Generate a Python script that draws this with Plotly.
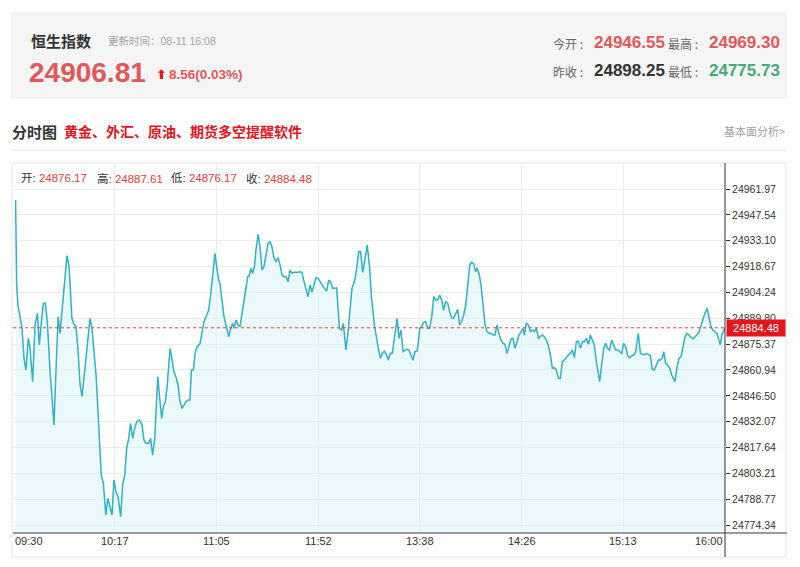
import plotly.graph_objects as go

# ---------------- data ----------------
index_name = "恒生指数"
update_time = "更新时间：08-11 16:08"
last_price = "24906.81"
change_text = "8.56(0.03%)"
today_open = "24946.55"
day_high = "24969.30"
prev_close = "24898.25"
day_low = "24775.73"
ohlc_labels = ["开:", "高:", "低:", "收:"]
ohlc_values = ["24876.17", "24887.61", "24876.17", "24884.48"]

# minute offsets from 09:30 (lunch break removed), and index level
morning_minutes = [
    1.2, 1.7, 2.3, 3.2, 4.2, 5.1, 6.0, 7.1, 7.9, 9.1,
    10.2, 11.3, 12.2, 13.3, 14.1, 15.0, 15.9, 17.2, 18.1, 19.0,
    19.9, 20.9, 21.8, 23.0, 24.1, 25.0, 26.0, 26.9, 27.3, 28.3,
    29.2, 30.1, 31.1, 32.0, 32.9, 33.8, 34.8, 35.7, 36.6, 37.5,
    38.5, 39.4, 40.3, 40.9, 41.9, 43.0, 44.0, 45.0, 45.9, 46.8,
    47.7, 48.7, 49.9, 50.8, 51.8, 52.7, 53.6, 54.5, 55.5, 56.4,
    57.3, 58.6, 59.8, 60.7, 61.6, 62.9, 63.8, 64.7, 65.7, 66.6,
    67.1, 68.0, 68.9, 69.7, 70.6, 71.5, 72.8, 73.7, 74.6, 75.5,
    76.5, 77.4, 78.3, 79.3, 80.2, 81.1, 82.0, 82.7, 83.6, 84.5,
    85.4, 86.7, 87.6, 88.5, 89.5, 90.7, 91.6, 92.7, 93.6, 94.4,
    95.3, 95.9, 96.9, 97.8, 98.7, 100.0, 100.9, 101.8, 102.4, 103.4,
    104.3, 105.2, 105.8, 106.8, 107.7, 108.3, 108.8, 109.5, 110.2, 111.1,
    112.0, 112.6, 113.6, 114.5, 115.4, 116.3, 117.3, 118.2, 119.1, 120.0,
    121.0, 121.9, 122.8, 123.8, 124.7, 125.6, 126.5, 127.5, 128.4, 129.3,
    130.2, 131.2, 132.1, 133.0, 133.9, 134.9, 135.8, 136.7, 137.7, 138.6,
    139.5, 140.4, 141.4, 142.3, 143.2, 144.1, 145.4, 146.3, 147.2, 148.2,
    149.1, 150.0,
]
morning_prices = [
    24955.83, 24908.37, 24897.20, 24889.76, 24884.18, 24867.43, 24860.91, 24878.59, 24873.01, 24854.40,
    24886.04, 24892.55, 24874.87, 24889.76, 24898.13, 24898.13, 24887.90, 24859.98, 24845.10, 24830.21,
    24859.98, 24890.69, 24881.39, 24897.20, 24912.09, 24924.75, 24918.61, 24902.79, 24889.76, 24886.41,
    24885.11, 24873.01, 24852.54, 24846.03, 24857.19, 24865.57, 24878.59, 24889.76, 24884.18, 24873.01,
    24858.12, 24837.65, 24817.18, 24802.29, 24797.64, 24779.96, 24789.27, 24784.61, 24779.96, 24799.50,
    24792.99, 24790.20, 24779.03, 24796.71, 24802.29, 24817.18, 24822.76, 24831.14, 24822.76, 24828.35,
    24832.07, 24833.00, 24830.21, 24821.83, 24819.97, 24819.97, 24822.76, 24813.46, 24822.76, 24845.10,
    24857.19, 24845.10, 24833.93, 24840.44, 24843.23, 24852.54, 24873.01, 24866.50, 24859.98, 24857.19,
    24852.54, 24843.23, 24839.51, 24841.37, 24843.23, 24844.17, 24844.17, 24860.91, 24860.91, 24871.15,
    24873.94, 24875.80, 24881.39, 24887.90, 24890.69, 24894.41, 24902.79, 24913.95, 24926.05, 24918.61,
    24911.16, 24909.30, 24900.00, 24890.69, 24886.04, 24879.52, 24884.18, 24886.97, 24884.18, 24888.83,
    24886.04, 24885.11, 24889.76, 24898.13, 24902.79, 24908.37, 24913.02, 24913.58, 24917.67, 24914.88,
    24919.54, 24927.91, 24936.66, 24929.77, 24916.74, 24918.61, 24926.98, 24931.63, 24932.56, 24929.77,
    24923.26, 24921.40, 24923.63, 24919.54, 24913.95, 24913.02, 24913.02, 24910.23, 24916.74, 24914.88,
    24915.44, 24915.26, 24915.44, 24915.81, 24915.44, 24910.23, 24906.51, 24901.86, 24908.37, 24904.65,
    24908.37, 24912.46, 24912.09, 24910.23, 24908.37, 24906.88, 24905.02, 24911.16, 24910.23, 24906.51,
    24906.51, 24906.88,
]
afternoon_minutes = [
    151.3, 152.2, 153.1, 154.3, 155.3, 156.2, 157.1, 158.4, 159.3, 160.2,
    161.1, 162.1, 163.0, 164.2, 165.3, 166.2, 167.5, 168.4, 169.3, 170.3,
    171.2, 172.1, 173.0, 174.0, 174.9, 175.8, 176.7, 178.0, 178.9, 179.8,
    180.8, 181.7, 182.6, 183.5, 184.5, 185.4, 186.3, 187.3, 187.9, 188.5,
    189.4, 190.3, 191.3, 192.2, 193.1, 194.1, 195.0, 195.9, 196.8, 197.8,
    198.7, 199.6, 200.5, 201.5, 202.4, 203.3, 204.2, 205.2, 206.1, 207.0,
    208.0, 208.9, 209.8, 210.7, 211.7, 212.6, 213.5, 214.4, 215.1, 216.0,
    216.9, 217.8, 218.8, 219.7, 220.6, 221.5, 222.5, 223.4, 224.3, 225.3,
    226.2, 227.1, 228.0, 229.0, 229.9, 230.8, 231.7, 232.7, 233.6, 234.5,
    235.5, 236.4, 237.0, 237.9, 238.9, 239.8, 240.7, 241.6, 242.6, 243.5,
    244.4, 245.3, 246.3, 247.2, 248.1, 249.1, 250.0, 250.9, 251.8, 252.8,
    253.7, 254.6, 255.5, 256.5, 257.4, 258.3, 259.2, 260.2, 261.1, 262.0,
    263.0, 263.9, 264.8, 265.7, 266.7, 267.6, 268.5, 269.4, 270.4, 271.3,
    271.9, 272.8, 273.8, 274.7, 275.6, 276.5, 277.5, 278.4, 279.3, 280.3,
    281.2, 282.1, 283.0, 284.0, 284.9, 285.8, 286.7, 287.7, 288.6, 289.2,
    289.8, 290.8, 291.7, 292.6, 293.5, 294.5, 295.4, 296.3, 297.2, 298.2,
    299.1, 300.0, 301.0, 301.6, 302.5, 303.4, 304.4, 305.3, 306.2, 306.8,
    307.8, 308.7, 309.6, 310.5, 311.5, 312.4, 313.3, 314.2, 315.2, 316.1,
    317.0, 318.0, 318.9, 319.8, 320.7, 321.7, 322.6, 323.5, 324.4, 325.4,
    326.3, 326.9, 327.8, 328.5, 330.0,
]
afternoon_prices = [
    24884.18, 24883.25, 24886.97, 24872.08, 24882.32, 24895.34, 24906.51, 24911.16, 24917.67, 24926.98,
    24926.98, 24915.44, 24921.40, 24930.70, 24917.67, 24900.93, 24886.04, 24878.59, 24873.01, 24867.43,
    24870.22, 24871.52, 24869.66, 24866.50, 24870.22, 24870.22, 24878.59, 24889.76, 24878.59, 24883.25,
    24871.15, 24872.08, 24872.64, 24872.08, 24869.29, 24866.50, 24871.15, 24871.52, 24876.73, 24884.18,
    24885.11, 24887.53, 24887.90, 24884.18, 24884.18, 24890.69, 24901.86, 24900.00, 24900.00, 24902.79,
    24900.00, 24894.41, 24899.06, 24898.13, 24893.48, 24890.13, 24889.76, 24892.55, 24894.78, 24886.04,
    24888.27, 24891.62, 24897.20, 24907.44, 24919.54, 24921.02, 24920.28, 24915.81, 24917.67, 24914.88,
    24908.37, 24898.13, 24886.04, 24882.32, 24881.39, 24881.39, 24880.45, 24880.45, 24886.04, 24880.83,
    24877.66, 24875.80, 24875.24, 24870.22, 24874.87, 24878.22, 24878.59, 24873.01, 24876.73, 24880.45,
    24882.32, 24884.18, 24880.45, 24886.97, 24886.04, 24882.32, 24883.25, 24882.32, 24884.18, 24878.59,
    24879.52, 24880.45, 24879.52, 24877.66, 24874.87, 24869.29, 24861.84, 24862.22, 24860.91, 24856.26,
    24856.26, 24865.57, 24866.50, 24868.36, 24869.29, 24870.22, 24872.08, 24867.80, 24876.73, 24877.11,
    24873.01, 24876.73, 24876.73, 24878.59, 24875.24, 24880.45, 24877.66, 24874.87, 24865.57, 24859.98,
    24854.40, 24863.71, 24873.01, 24875.80, 24873.01, 24872.08, 24877.66, 24874.87, 24872.08, 24872.08,
    24871.15, 24870.22, 24875.80, 24873.94, 24868.92, 24867.80, 24868.92, 24869.29, 24871.15, 24876.73,
    24881.39, 24870.22, 24869.66, 24869.29, 24870.22, 24869.66, 24868.92, 24861.29, 24860.91, 24863.71,
    24866.50, 24866.50, 24867.80, 24871.15, 24864.64, 24863.71, 24861.84, 24858.12, 24855.33, 24854.40,
    24862.78, 24867.43, 24868.36, 24873.01, 24879.52, 24881.39, 24880.45, 24878.97, 24878.22, 24879.52,
    24880.45, 24882.32, 24886.04, 24889.76, 24892.55, 24895.34, 24890.69, 24885.11, 24883.25, 24882.32,
    24881.39, 24878.59, 24874.87, 24880.45, 24884.48,
]
assert len(morning_minutes) == len(morning_prices)
assert len(afternoon_minutes) == len(afternoon_prices)

x_tick_minutes = [0, 47.1, 94.3, 141.4, 188.6, 235.7, 282.9, 330]
x_tick_labels = ["09:30", "10:17", "11:05", "11:52", "13:38", "14:26", "15:13", "16:00"]
y_tick_values = [24961.97, 24947.54, 24933.10, 24918.67, 24904.24, 24889.80, 24875.37,
                 24860.94, 24846.50, 24832.07, 24817.64, 24803.21, 24788.77, 24774.34]
y_range = [24769.9, 24976.5]
x_range = [0, 330]

minutes = morning_minutes + afternoon_minutes
prices = morning_prices + afternoon_prices
current = prices[-1]

# ---------------- styling ----------------
W, H = 800, 567
def px(x):
    return x / W
def py(y):
    return 1 - y / H

RED = "#e2575a"
GREEN = "#45a97c"
CJK = "Noto Sans CJK SC"
NUM = "Liberation Sans, Noto Sans CJK SC"
LINE = "#2cb3c6"
GRID = "#ececec"

fig = go.Figure()
fig.add_trace(go.Scatter(
    x=minutes, y=prices, mode="lines",
    line=dict(color=LINE, width=1.5),
    fill="tozeroy", fillcolor="rgba(222,244,250,0.6)",
    hoverinfo="skip", showlegend=False,
))

shapes = [
    dict(type="rect", xref="paper", yref="paper", x0=px(12), x1=px(786), y0=py(98), y1=py(13),
         fillcolor="#f5f5f5", line=dict(color="#eaeaea", width=1), layer="below"),
    dict(type="line", xref="paper", yref="paper", x0=px(12), x1=px(786), y0=py(150), y1=py(150),
         line=dict(color="#e3e3e3", width=1)),
    dict(type="rect", xref="paper", yref="paper", x0=px(12), x1=px(786), y0=py(557), y1=py(163),
         line=dict(color="#e6e6e6", width=1), layer="below"),
    dict(type="line", xref="x", yref="y", x0=x_range[0], x1=x_range[1], y0=current, y1=current,
         line=dict(color="#e8413d", width=1, dash="dot")),
    dict(type="line", xref="paper", yref="paper", x0=px(13), x1=px(787), y0=py(533), y1=py(533),
         line=dict(color="#9a9a9a", width=2)),
    dict(type="line", xref="paper", yref="paper", x0=px(725), x1=px(725), y0=py(557), y1=py(163),
         line=dict(color="#333333", width=1)),
]

ann = []
def text(x, y, s, size, color, family=CJK, anchor="left"):
    ann.append(dict(xref="paper", yref="paper", x=px(x), y=py(y), text=s, showarrow=False,
                    xanchor=anchor, yanchor="middle", font=dict(size=size, color=color, family=family)))

# header
text(29, 40, f"<b>{index_name}</b>", 15, "#333333")
text(106, 41, update_time, 10.5, "#a3a3a3", family=NUM)
text(27, 72, f"<b>{last_price}</b>", 28, RED, family=NUM)
text(154, 74, "<b>⬆</b>", 13, "#e11a1a", family="DejaVu Sans")
text(167, 74, f"<b>{change_text}</b>", 13.5, RED, family=NUM)
text(551, 43, "今开 :", 12, "#666666")
text(592, 42, f"<b>{today_open}</b>", 17, RED, family=NUM)
text(666, 43, "最高 :", 12, "#666666")
text(707, 42, f"<b>{day_high}</b>", 17, RED, family=NUM)
text(551, 71, "昨收 :", 12, "#666666")
text(592, 70, f"<b>{prev_close}</b>", 17, "#333333", family=NUM)
text(666, 71, "最低 :", 12, "#666666")
text(707, 70, f"<b>{day_low}</b>", 17, GREEN, family=NUM)

# section title
text(10, 131, "<b>分时图</b>", 15, "#333333")
text(62, 131, "<b>黄金、外汇、原油、期货多空提醒软件</b>", 14, "#e0141e")
text(787, 131, "基本面分析&gt;", 11, "#a0a0a0", anchor="right")

# OHLC row
ohlc_x = [19, 95, 169, 244]
for xx, lab, val in zip(ohlc_x, ohlc_labels, ohlc_values):
    text(xx, 178, f"{lab} <span style='color:#e5403c'>{val}</span>", 11.5, "#333333", family=NUM)

# x tick labels via data coordinates
for i, (m, lab) in enumerate(zip(x_tick_minutes, x_tick_labels)):
    anchor = "left" if i == 0 else ("right" if i == len(x_tick_labels) - 1 else "center")
    ann.append(dict(xref="x", yref="paper", x=m, y=py(541), text=lab, showarrow=False,
                    xanchor=anchor, yanchor="middle",
                    font=dict(size=11, color="#333333", family=NUM)))

# current price tag
ann.append(dict(xref="paper", yref="y", x=px(756), y=current, text=f"{current:.2f}",
                showarrow=False, xanchor="center", yanchor="middle", bgcolor="#e3161b",
                width=56, height=14, borderpad=1,
                font=dict(size=11, color="white", family=NUM)))

fig.update_layout(
    width=W, height=H, margin=dict(l=0, r=0, t=0, b=0),
    paper_bgcolor="white", plot_bgcolor="white",
    shapes=shapes, annotations=ann, showlegend=False,
    xaxis=dict(domain=[px(13), px(725)], range=x_range, tickvals=x_tick_minutes,
               showticklabels=False, showgrid=True, gridcolor=GRID, gridwidth=1,
               zeroline=False, showline=False, ticks="", fixedrange=True),
    yaxis=dict(domain=[py(533), py(163)], range=y_range, side="right",
               tickvals=y_tick_values, ticktext=[f"{v:.2f}" for v in y_tick_values],
               ticks="outside", ticklen=4, tickcolor="#333333", showline=False,
               showgrid=True, gridcolor=GRID, gridwidth=1, zeroline=False,
               tickfont=dict(size=10.5, color="#333333", family=NUM), fixedrange=True),
)

fig.write_html("out.html", config={"displayModeBar": False},
               post_script="document.body.style.margin='0px';document.body.style.overflow='hidden';")
